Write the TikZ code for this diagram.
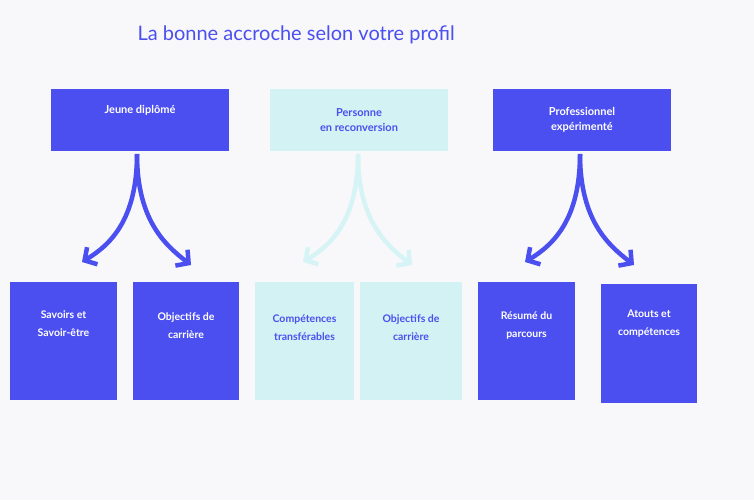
\documentclass[tikz,border=0pt]{standalone}
\usepackage{fontspec}
\setmainfont{Lato}
\usetikzlibrary{arrows.meta}
\definecolor{bg}{HTML}{F8F8FA}
\definecolor{blu}{HTML}{4B4FF0}
\definecolor{cy}{HTML}{D3F2F3}
\definecolor{cyar}{HTML}{D6F4F6}
\tikzset{
  dk/.style={fill=blu,text=white,font=\bfseries\fontsize{11}{15}\selectfont,align=center,inner sep=0pt},
  lt/.style={fill=cy,text=blu,font=\bfseries\fontsize{11}{15}\selectfont,align=center,inner sep=0pt},
  arr/.style={line width=4.5pt,-{Straight Barb[length=9pt,width=20pt,line width=4.5pt]}},
}
\begin{document}
\begin{tikzpicture}[x=1pt,y=-1pt]
\fill[bg] (0,0) rectangle (754,500);
\node[text=blu,font=\fontsize{20}{24}\selectfont,anchor=west] (title) at (134,35) {La bonne accroche selon votre profil};
% top boxes
\node[dk,minimum width=178,minimum height=62] (a) at (140,120) {};
\node[text=white,font=\bfseries\fontsize{11}{15}\selectfont] (at) at (140,110) {Jeune diplômé};
\node[lt,minimum width=178,minimum height=62] (b) at (359,120) {Personne\\en reconversion};
\node[dk,minimum width=178,minimum height=62] (c) at (582,120) {Professionnel\\expérimenté};
% bottom boxes
\node[dk,minimum width=107,minimum height=118] (a1) at (63.5,341) {};
\node[text=white,font=\bfseries\fontsize{10.5}{18}\selectfont,align=center] at (63.5,324) {Savoirs et\\Savoir-être};
\node[dk,minimum width=106,minimum height=118] (a2) at (186,341) {};
\node[text=white,font=\bfseries\fontsize{10.5}{18}\selectfont,align=center] at (186,326) {Objectifs de\\carrière};
\node[lt,minimum width=99,minimum height=118] (b1) at (304.5,341) {};
\node[text=blu,font=\bfseries\fontsize{10.5}{18}\selectfont,align=center] at (304.5,328) {Compétences\\transférables};
\node[lt,minimum width=102,minimum height=118] (b2) at (411,341) {};
\node[text=blu,font=\bfseries\fontsize{10.5}{18}\selectfont,align=center] at (411,328) {Objectifs de\\carrière};
\node[dk,minimum width=97,minimum height=118] (c1) at (526.5,341) {};
\node[text=white,font=\bfseries\fontsize{10.5}{18}\selectfont,align=center] at (526.5,325) {Résumé du\\parcours};
\node[dk,minimum width=96,minimum height=119] (c2) at (649,343.5) {};
\node[text=white,font=\bfseries\fontsize{10.5}{18}\selectfont,align=center] at (649,324) {Atouts et\\compétences};
% arrows
\coordinate (as) at (137,154);
\draw[arr,blu] (as) .. controls (137,220) and (110,245) .. (82,262);
\draw[arr,blu] (as) .. controls (137,220) and (165,245) .. (191,265);
\coordinate (bs) at (358,154);
\draw[arr,cyar] (bs) .. controls (358,220) and (331,245) .. (303,262);
\draw[arr,cyar] (bs) .. controls (358,220) and (386,245) .. (412,265);
\coordinate (cs) at (580,154);
\draw[arr,blu] (cs) .. controls (580,220) and (553,245) .. (525,262);
\draw[arr,blu] (cs) .. controls (580,220) and (608,245) .. (634,265);
\end{tikzpicture}
\end{document}
